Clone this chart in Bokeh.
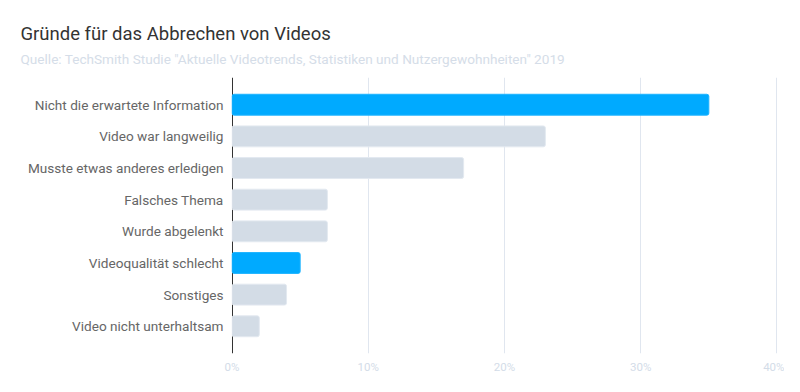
from bokeh.plotting import figure
from bokeh.models import (FactorRange, Range1d, FixedTicker, PrintfTickFormatter, Title,
                          ColumnDataSource, Grid, LinearAxis)
from bokeh.embed import file_html
from bokeh.resources import INLINE

title_text = "Gründe für das Abbrechen von Videos"
subtitle_text = 'Quelle: TechSmith Studie "Aktuelle Videotrends, Statistiken und Nutzergewohnheiten" 2019'

categories = [
    "Nicht die erwartete Information",
    "Video war langweilig",
    "Musste etwas anderes erledigen",
    "Falsches Thema",
    "Wurde abgelenkt",
    "Videoqualität schlecht",
    "Sonstiges",
    "Video nicht unterhaltsam",
]
values = [35, 23, 17, 7, 7, 5, 4, 2]
highlight = [True, False, False, False, False, True, False, False]
x_ticks = [0, 10, 20, 30, 40]

BLUE = "#00aaff"
BLUE_LINE = "#1fb4ff"
GRAY = "#d3dce6"
GRAY_LINE = "#e3e9f0"

fills = [BLUE if h else GRAY for h in highlight]
lines = [BLUE_LINE if h else GRAY_LINE for h in highlight]

source = ColumnDataSource(dict(cat=categories, val=values, fill=fills, line=lines))

p = figure(
    width=784, height=376, title=None,
    y_range=FactorRange(factors=list(reversed(categories)), range_padding=0.36, range_padding_units="absolute"),
    x_range=Range1d(-0.04, 40.04),
    output_backend="svg", toolbar_location=None,
    min_border_left=231, min_border_right=7, min_border_bottom=23, min_border_top=77,
)

p.hbar(y="cat", right="val", left=0, height=0.66, source=source,
       fill_color="fill", line_color="line", line_width=1, border_radius=2)

# invisible axis used as a spacer between the subtitle and the plot area
spacer = LinearAxis(ticker=FixedTicker(ticks=[20]), axis_line_color=None,
                    major_tick_line_color=None, minor_tick_line_color=None,
                    major_tick_out=11, major_tick_in=0, minor_tick_out=0, minor_tick_in=0,
                    major_label_standoff=0, major_label_text_font_size="1px",
                    major_label_text_color=None)
p.add_layout(spacer, "above")

sub = Title(text=subtitle_text, text_font="Roboto", text_font_size="13.6px", text_font_style="normal",
            text_color="#d5dde8", align="left", offset=-211, standoff=0)
p.add_layout(sub, "above")
main = Title(text=title_text, text_font="Roboto", text_font_size="18.5px", text_font_style="normal",
             text_color="#333333", align="left", offset=-211, standoff=8)
p.add_layout(main, "above")

p.outline_line_color = None
p.background_fill_color = "white"
p.border_fill_color = "white"

# x axis
xaxis = p.below[0]
xaxis.ticker = FixedTicker(ticks=x_ticks)
xaxis.formatter = PrintfTickFormatter(format="%d%%")
xaxis.axis_line_color = None
xaxis.major_tick_line_color = None
xaxis.minor_tick_line_color = None
xaxis.major_label_text_color = "#d3dce8"
xaxis.major_label_text_font = "Roboto"
xaxis.major_label_text_font_size = "11.5px"
xaxis.major_label_standoff = 0

# y axis (line drawn as a dark grid line under the bars)
p.yaxis.axis_line_color = None
p.yaxis.major_tick_line_color = None
p.yaxis.minor_tick_line_color = None
p.yaxis.major_label_text_color = "#666666"
p.yaxis.major_label_text_font = "Roboto"
p.yaxis.major_label_text_font_size = "13.6px"
p.yaxis.major_label_standoff = 2

p.xgrid.ticker = FixedTicker(ticks=x_ticks[1:])
p.xgrid.grid_line_color = "#e0e6ef"
p.xgrid.grid_line_width = 1
p.ygrid.grid_line_color = None
zero_line = Grid(dimension=0, ticker=FixedTicker(ticks=[0]), grid_line_color="#333333", grid_line_width=1)
p.add_layout(zero_line)

open("out.html", "w").write(file_html(p, INLINE))
